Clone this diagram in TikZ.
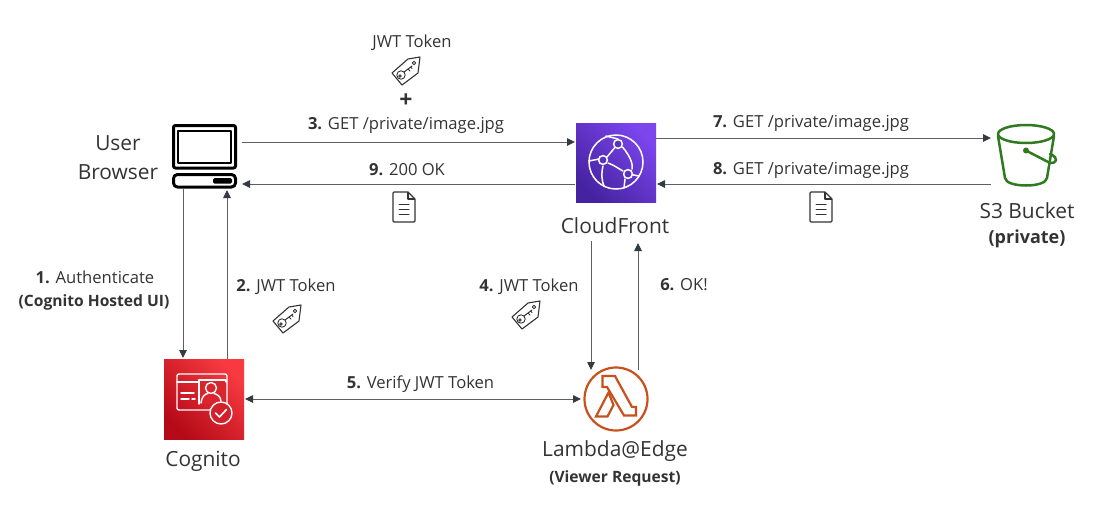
\documentclass[tikz,border=0pt]{standalone}
\usepackage{fontspec}
\setmainfont{Open Sans}
\usetikzlibrary{arrows.meta,calc}
\definecolor{txt}{HTML}{333333}
\definecolor{ln}{HTML}{5F5F5F}
\definecolor{tipc}{HTML}{333A42}
\definecolor{sthree}{HTML}{2F7A1F}
\definecolor{lam}{HTML}{C8511B}
\definecolor{cfa}{HTML}{4523A0}
\definecolor{cfb}{HTML}{7C45EE}
\definecolor{coga}{HTML}{B50A18}
\definecolor{cogb}{HTML}{F83A40}
\newcommand{\lblfont}{\fontsize{16.6}{19}\selectfont}
\newcommand{\bigfont}{\fontsize{20.9}{24}\selectfont}
\tikzset{
  x=1pt,y=-1pt,
  holder/.style={inner sep=0pt,outer sep=0pt},
  lbl/.style={text=txt,font=\lblfont,inner sep=0pt},
  boldlbl/.style={text=txt,font=\fontsize{15.6}{18}\selectfont\bfseries,inner sep=0pt},
  big/.style={text=txt,font=\bigfont,inner sep=0pt},
  arr/.style={draw=ln,line width=0.9pt,-{Stealth[length=8pt,width=7.5pt,inset=0pt,color=tipc]}},
  darr/.style={draw=ln,line width=0.9pt,{Stealth[length=8pt,width=7.5pt,inset=0pt,color=tipc]}-{Stealth[length=8pt,width=7.5pt,inset=0pt,color=tipc]}},
  icon/.style={draw=#1,line join=round,line cap=round},
  pics/tag/.style={code={
    \draw[icon=txt,line width=1.1pt] (14,-14) -- (12,2) -- (-4,14) -- (-14,2) -- (2,-12) -- cycle;
    \draw[icon=txt,line width=0.9pt] (8,-8) circle (1.8);
    \draw[icon=txt,line width=0.9pt] (-5,4) circle (4.2) (-6,5) circle (1.2);
    \draw[icon=txt,line width=1pt] (-2,1) -- (6,-5) (2,-2) -- (4,0) (4.5,-4) -- (6,-2.5);
  }},
  pics/doc/.style={code={
    \draw[icon=txt,line width=1.1pt,rounded corners=1pt] (-11,-15) -- (4,-15) -- (11,-8) -- (11,15) -- (-11,15) -- cycle;
    \draw[icon=txt,line width=1.1pt] (4,-15) -- (4,-8) -- (11,-8);
    \draw[icon=txt,line width=1pt] (-5,-3) -- (5,-3) (-5,2) -- (5,2) (-5,7) -- (5,7);
  }},
}
\begin{document}
\begin{tikzpicture}
\useasboundingbox (0,0) rectangle (1100,504);
% icon holders
\node[holder,minimum width=65pt,minimum height=64pt] (browser) at (204.5,156) {};
\node[holder,minimum width=80pt,minimum height=79pt,left color=cfa,right color=cfb,shading angle=135] (cf) at (616,162.5) {};
\node[holder,minimum width=60pt,minimum height=60pt] (s3) at (1026,155) {};
\node[holder,minimum width=80pt,minimum height=80pt,left color=coga,right color=cogb,shading angle=135] (cog) at (204,399) {};
\node[holder,circle,minimum size=64pt] (lambda) at (616,399) {};
% browser icon
\draw[icon=black,line width=3pt,rounded corners=2pt] (173.5,125.5) rectangle (235.5,168);
\draw[icon=black,line width=2pt] (177.5,131) rectangle (231,163);
\draw[icon=black,line width=3pt,rounded corners=4pt] (173.5,174.5) rectangle (235.5,187);
\fill[black,rounded corners=1.5pt] (213,178) rectangle (232,183.5);
% cloudfront icon
\begin{scope}[shift={(616,162)},white,line width=1.5pt,line cap=round]
\draw (0,0) circle (27);
\draw (-10,-26) .. controls (-2,-24) and (2,-23) .. (2,-23);
\draw (6.5,-15) .. controls (15,-5) and (17,3) .. (16,7);
\draw (-1.5,-14) -- (-9,-5);
\draw (-8,1) .. controls (-2,3) and (3,7) .. (7,9);
\draw (-17,-3) -- (-27,-1);
\draw (-13,4) .. controls (-15,12) and (-14,20) .. (-12,24);
\draw (12,12) -- (23,14);
\draw (9,17) -- (8,26);
\filldraw[fill=cfa!60!cfb] (2,-18) circle (4.4) (-13,-2) circle (4.4) (12,12) circle (4.4);
\end{scope}
% s3 icon
\begin{scope}[line width=2.5pt,sthree,line cap=round,line join=round]
\draw (1026,134) ellipse (28 and 9);
\draw (998,136) -- (1005,178) .. controls (1006,188) and (1046,188) .. (1047,178) -- (1054,136);
\fill (1026,150.5) circle (3);
\draw (1026,150.5) -- (1050,163) .. controls (1056,164) and (1060,158) .. (1050,154);
\end{scope}
% cognito icon
\begin{scope}[white,line width=1.4pt,line cap=round,line join=round]
\draw[rounded corners=2pt] (177,374) rectangle (227,410);
\draw (177,382) -- (199,382);
\fill[cogb!55!coga] (199,380) rectangle (226,404);
\draw (199,404) -- (199,380) -- (226,380) -- (226,382);
\draw (211,388) circle (5.5);
\draw (201,403) .. controls (202,396) and (205,394) .. (208,393.5) (214,393.5) .. controls (217,394) and (221,397) .. (221,401);
\draw (181,393) -- (194,393) (181,399) -- (189,399) (192,399) -- (195,399);
\filldraw[fill=cogb!45!coga] (221,413) circle (11);
\draw[line width=1.6pt] (215.5,413) -- (219.5,417) -- (226.5,409.5);
\end{scope}
% lambda icon
\begin{scope}[line width=2.2pt,lam,line join=miter]
\draw (lambda.center) circle (31.5);
\draw (602.5,376) -- (615,376) -- (632,407) -- (636,407) -- (636,415.5) -- (624,415.5) -- (607,387) -- (602.5,387) -- cycle;
\draw (608.5,392.5) -- (613.5,405) -- (607.5,416.5) -- (596,416.5) -- cycle;
\end{scope}
% connectors
\draw[arr] ([shift={(5,18)}]browser.north east) -- ([shift={(-1,-20.5)}]cf.west);
\draw[arr] ([shift={(-1,21.5)}]cf.west) -- ([shift={(5,28)}]browser.east);
\draw[arr] ([shift={(0,-24.5)}]cf.east) -- ([shift={(-5,-17)}]s3.west);
\draw[arr] ([shift={(-5,29)}]s3.west) -- ([shift={(1,21.5)}]cf.east);
\draw[arr] ([shift={(-21.5,0)}]browser.south) -- ([shift={(-21,-1)}]cog.north);
\draw[arr] ([shift={(23,0)}]cog.north) -- ([shift={(22.5,2)}]browser.south);
\draw[darr] ([shift={(1,0)}]cog.east) -- ([shift={(-3,0)}]lambda.west);
\draw[arr] ([shift={(-25,39)}]cf.south) -- ([shift={(-25,3)}]lambda.north);
\draw[arr] ([shift={(22,3)}]lambda.north) -- ([shift={(22,41)}]cf.south);
% labels
\node[big] (tu) at (118,143) {User};
\node[big] (tb) at (118,172) {Browser};
\node[big] (tc) at (615,226) {CloudFront};
\node[big] (ts) at (1027,211) {S3 Bucket};
\node[boldlbl,font=\fontsize{18}{20}\selectfont\bfseries] (tp) at (1027,239) {(private)};
\node[big] (tg) at (203,461) {Cognito};
\node[big] (tl) at (615,451) {Lambda@Edge};
\node[boldlbl] (tv) at (615,478.5) {(Viewer Request)};
\node[lbl] (l1) at (95,277) {\textbf{1.} Authenticate};
\node[boldlbl] (l1b) at (94,302) {(Cognito Hosted UI)};
\node[lbl] (l2) at (286,287) {\textbf{2.} JWT Token};
\node[lbl] (l3t) at (412,42.5) {JWT Token};
\node[lbl,font=\fontsize{23}{25}\selectfont\bfseries] (plus) at (406,101) {+};
\node[lbl] (l3) at (406,125.5) {\textbf{3.} GET /private/image.jpg};
\node[lbl] (l4) at (529,286.5) {\textbf{4.} JWT Token};
\node[lbl] (l5) at (420.5,384) {\textbf{5.} Verify JWT Token};
\node[lbl] (l6) at (684,285) {\textbf{6.} OK!};
\node[lbl] (l7) at (811,123.5) {\textbf{7.} GET /private/image.jpg};
\node[lbl] (l8) at (811,170.5) {\textbf{8.} GET /private/image.jpg};
\node[lbl] (l9) at (407,170) {\textbf{9.} 200 OK};
% small icons
\pic at (406,71) {tag};
\pic at (287,319) {tag};
\pic at (526,315) {tag};
\pic at (404,207) {doc};
\pic at (821,207) {doc};
\end{tikzpicture}
\end{document}
